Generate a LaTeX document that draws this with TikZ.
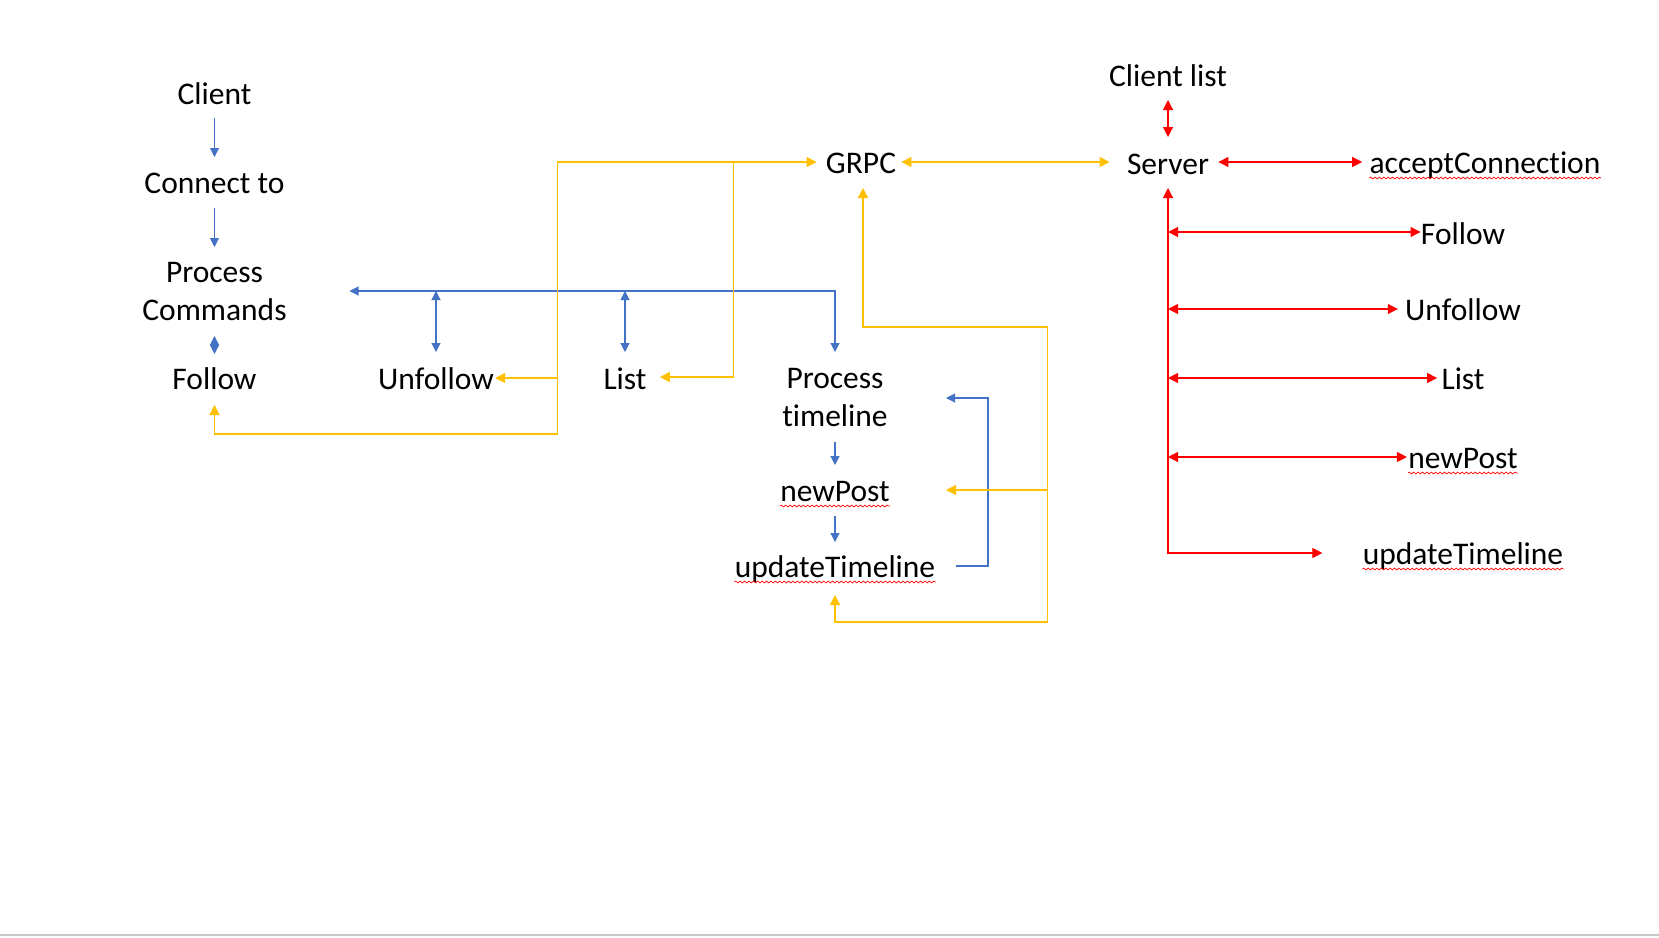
\documentclass[tikz,border=0pt]{standalone}
\usepackage{fontspec}
\setmainfont[Ligatures={NoCommon,NoRare}]{Carlito}
\usetikzlibrary{arrows.meta,calc,decorations.pathmorphing}
\definecolor{bl}{HTML}{4472C4}
\definecolor{yl}{HTML}{FFC000}
\definecolor{rd}{HTML}{FF0000}
\tikzset{
  lbl/.style={inner sep=0pt, anchor=base, font=\fontsize{15.75}{19}\selectfont},
  lbltwo/.style={inner sep=0pt, anchor=center, align=center, font=\fontsize{15.75}{19}\selectfont},
  bline/.style={draw=bl, line width=0.55pt},
  yline/.style={draw=yl, line width=0.65pt},
  rline/.style={draw=rd, line width=0.55pt},
  barrow/.style={bline, -{Triangle[length=4.5pt,width=4.5pt]}},
  bboth/.style={bline, {Triangle[length=4.5pt,width=4.5pt]}-{Triangle[length=4.5pt,width=4.5pt]}},
  yarrow/.style={yline, -{Triangle[length=5pt,width=5pt]}},
  yboth/.style={yline, {Triangle[length=5pt,width=5pt]}-{Triangle[length=5pt,width=5pt]}},
  rboth/.style={rline, {Triangle[length=5pt,width=5pt]}-{Triangle[length=5pt,width=5pt]}},
  spell/.style={draw=rd, line width=0.35pt, decorate, decoration={snake, amplitude=0.45pt, segment length=2.2pt}}
}
\begin{document}
\begin{tikzpicture}[x=0.5pt,y=-0.5pt]
\fill[white] (0,0) rectangle (1659,937);
\useasboundingbox (0,0) rectangle (1659,937);
\draw[black!22, line width=1pt] (0,935) -- (1659,935);

% client side
\node[lbl] (client) at (214.5,104) {Client};
\node[lbl] (connect) at (214.5,193) {Connect to};
\node[lbltwo] (pc) at (214.5,292) {Process\\Commands};
\node[lbl] (follow) at (214.5,389) {Follow};
\node[lbl] (unfollow) at (436,389) {Unfollow};
\node[lbl] (list) at (625,389) {List};
\node[lbltwo] (pt) at (835,398) {Process\\timeline};
\node[lbl] (newpost) at (835,501) {newPost};
\node[lbl] (update) at (835,577) {updateTimeline};
\node[lbl] (grpc) at (861,173) {GRPC};

% server side
\node[lbl] (clist) at (1168,86) {Client list};
\node[lbl] (server) at (1168,174) {Server};
\node[lbl] (accept) at (1485,173) {acceptConnection};
\node[lbl] (rfollow) at (1463,244) {Follow};
\node[lbl] (runfollow) at (1463,320) {Unfollow};
\node[lbl] (rlist) at (1463,389) {List};
\node[lbl] (rnewpost) at (1463,468) {newPost};
\node[lbl] (rupdate) at (1463,564) {updateTimeline};

% spelling underlines
\foreach \n in {newpost,update,accept,rnewpost,rupdate}
  \draw[spell] ($(\n.base west)+(0,5)$) -- ($(\n.base east)+(0,5)$);

% blue connectors
\draw[barrow] ($(client.base)+(0,14)$) -- ($(connect.base)+(0,-36)$);
\draw[barrow] ($(connect.base)+(0,15)$) -- ($(pc)+(0,-45)$);
\draw[bboth] ($(pc)+(0,44)$) -- ($(follow.base)+(0,-35)$);
\draw[bboth] ($(pc)+(135,-1)$) -- ($(pt |- pc)+(0,-1)$) -- ($(pt)+(0,-46)$);
\draw[bboth] ($(unfollow |- pc)+(0,-1)$) -- ($(unfollow.base)+(0,-37)$);
\draw[bboth] ($(list |- pc)+(0,-1)$) -- ($(list.base)+(0,-37)$);
\draw[barrow] ($(pt)+(0,44)$) -- ($(newpost.base)+(0,-36)$);
\draw[barrow] ($(newpost.base)+(0,15)$) -- ($(update.base)+(0,-35)$);
\coordinate (bl1) at ($(update.base)+(121,-11)$);
\coordinate (bl2) at ($(pt)+(111,0)$);
\draw[barrow] (bl1) -- ++(32,0) |- (bl2);

% yellow connectors
\coordinate (ft) at ($(follow.base)+(0,16)$);
\coordinate (yj) at (557.6,434);
\coordinate (gt) at ($(grpc.base west)+(-9,-11)$);
\draw[yboth] (ft) |- (yj) |- (gt);
\coordinate (uft) at ($(unfollow.base east)+(1,-11)$);
\draw[yarrow] (yj |- uft) -- (uft);
\coordinate (lt) at ($(list.base east)+(13,-12)$);
\draw[yarrow] ($(gt)+(-83,0)$) |- (lt);
\draw[yboth] ($(grpc.base east)+(5,-11)$) -- ($(server.base west)+(-17,-12)$);
\coordinate (gu) at ($(grpc.base)+(2,15)$);
\coordinate (c1) at (1047.5,327);
\coordinate (c2) at (835,622);
\coordinate (ut) at ($(update.base)+(0,18)$);
\draw[yboth] (gu) |- (c1) |- (c2) -- (ut);
\coordinate (npt) at ($(newpost.base)+(111,-11)$);
\draw[yarrow] (c1 |- npt) -- (npt);

% red connectors
\draw[rboth] ($(clist.base)+(0,14)$) -- ($(server.base)+(0,-37)$);
\draw[rboth] ($(server.base east)+(9,-12)$) -- ($(accept.base west)+(-7,-11)$);
\draw[rboth] ($(server.base)+(0,14)$) |- ($(rupdate.base west)+(-40,-11)$);
\coordinate (rf) at ($(rfollow.base west)+(0,-12)$);
\draw[rboth] (server |- rf) -- (rf);
\coordinate (ru) at ($(runfollow.base west)+(-7,-11)$);
\draw[rboth] (server |- ru) -- (ru);
\coordinate (rl) at ($(rlist.base west)+(-4,-11)$);
\draw[rboth] (server |- rl) -- (rl);
\coordinate (rn) at ($(rnewpost.base west)+(-1,-11)$);
\draw[rboth] (server |- rn) -- (rn);
\end{tikzpicture}
\end{document}
